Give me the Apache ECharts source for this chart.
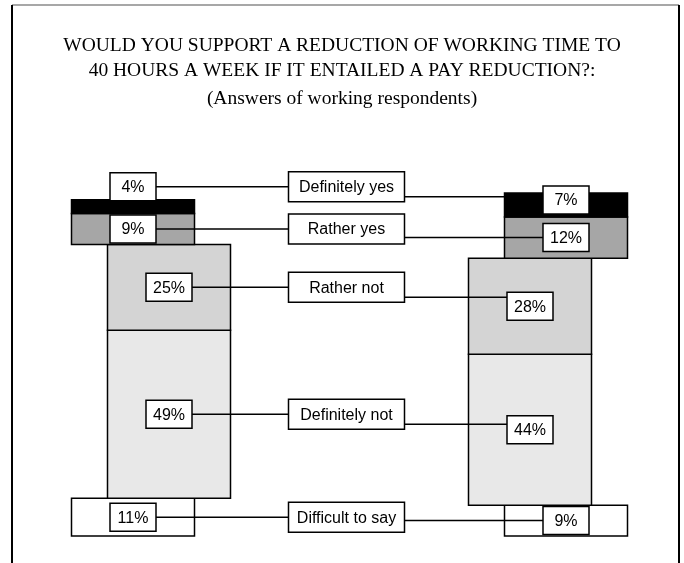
<!DOCTYPE html>
<html>
<head>
<meta charset="utf-8">
<script src="https://cdn.jsdelivr.net/npm/echarts@6/dist/echarts.min.js"></script>
<style>
  html, body { margin: 0; padding: 0; background: #fff; }
  #chart { width: 684px; height: 563px; }
</style>
</head>
<body>
<div id="chart"></div>
<script>
// Answer categories, listed from the top of each stack downwards
const answers = ['Definitely yes', 'Rather yes', 'Rather not', 'Definitely not', 'Difficult to say'];
// Share of working respondents (%) for the two stacked columns
const leftValues = [4, 9, 25, 49, 11];
const rightValues = [7, 12, 28, 44, 9];
const columns = ['A', 'B'];
const titleLines = [
  'WOULD YOU SUPPORT A REDUCTION OF WORKING TIME TO',
  '40 HOURS A WEEK IF IT ENTAILED A PAY REDUCTION?:',
  '(Answers of working respondents)'
];

// Styling and layout
const fills = ['#000000', '#a6a6a6', '#d4d4d4', '#e8e8e8', '#ffffff'];
const outward = [true, true, false, false, true]; // these segments lean to the outer side
const columnSide = [-1, 1];
const BAR_W = 123;
const HALF_SHIFT = 18;
const LABEL_W = 46, LABEL_H = 28;
const CAT_W = 116, CAT_H = 30;
const FONT = '"Liberation Sans", Arial, sans-serif';
const SERIF = '"Liberation Serif", "Times New Roman", serif';
const titleTops = [35, 60, 88];
const labelNudge = { '0-0': -20, '1-0': -5 };

const valuesOf = b => (b === 0 ? leftValues : rightValues);

// Stacked segments: [column, base, top, answer]
const segments = [];
for (let b = 0; b < 2; b++) {
  const vals = valuesOf(b);
  let acc = 0;
  for (let a = answers.length - 1; a >= 0; a--) {
    segments.push([b, acc, acc + vals[a], a]);
    acc += vals[a];
  }
}

function segCenterX(b, a, x) {
  return x + (outward[a] ? 1 : -1) * columnSide[b] * HALF_SHIFT;
}

function labelCenter(api, b, a) {
  const vals = valuesOf(b);
  let base = 0;
  for (let k = answers.length - 1; k > a; k--) base += vals[k];
  const mid = api.coord([b, base + vals[a] / 2]);
  return [segCenterX(b, a, mid[0]), mid[1] + (labelNudge[b + '-' + a] || 0)];
}

const chart = echarts.init(document.getElementById('chart'), null, { renderer: 'canvas' });

chart.setOption({
  backgroundColor: '#ffffff',
  animation: false,
  title: titleLines.map((t, i) => ({
    text: t,
    left: 'center', top: titleTops[i], padding: 0,
    textStyle: { fontFamily: SERIF, fontSize: 19.5, fontWeight: 'normal', color: '#000', lineHeight: 22 }
  })),
  graphic: [
    { type: 'line', shape: { x1: 12, y1: 5, x2: 679, y2: 5 }, style: { stroke: '#8a8a8a', lineWidth: 1.5 } },
    { type: 'line', shape: { x1: 12, y1: 5, x2: 12, y2: 563 }, style: { stroke: '#000', lineWidth: 2 } },
    { type: 'line', shape: { x1: 679, y1: 5, x2: 679, y2: 563 }, style: { stroke: '#000', lineWidth: 2 } }
  ],
  grid: { left: 151, right: 136, top: 193, bottom: 27 },
  xAxis: { type: 'category', data: columns, boundaryGap: false, show: false },
  yAxis: { type: 'value', min: 0, max: 100, show: false },
  series: [
    {
      type: 'custom', z: 2, clip: false,
      data: segments,
      encode: { x: 0, y: [1, 2] },
      renderItem: (params, api) => {
        const b = api.value(0), a = api.value(3);
        const p0 = api.coord([b, api.value(1)]);
        const p1 = api.coord([b, api.value(2)]);
        const cx = segCenterX(b, a, p0[0]);
        return {
          type: 'rect',
          shape: { x: cx - BAR_W / 2, y: p1[1], width: BAR_W, height: p0[1] - p1[1] },
          style: { fill: fills[a], stroke: '#000', lineWidth: 1.5 }
        };
      }
    },
    {
      // connector lines and answer boxes in the middle
      type: 'custom', z: 3, clip: false,
      data: answers.map((name, a) => [0, 0, a]),
      encode: { x: 0, y: 1 },
      renderItem: (params, api) => {
        const a = api.value(2);
        const l = labelCenter(api, 0, a);
        const r = labelCenter(api, 1, a);
        const catX = (api.coord([0, 0])[0] + api.coord([1, 0])[0]) / 2 - 3;
        const catY = l[1];
        const catLeft = catX - CAT_W / 2, catRight = catX + CAT_W / 2;
        const rightY = Math.min(r[1], catY + CAT_H / 2 - 5);
        return {
          type: 'group',
          children: [
            { type: 'line', shape: { x1: l[0] + LABEL_W / 2, y1: l[1], x2: catLeft, y2: l[1] }, style: { stroke: '#000', lineWidth: 1.5 } },
            { type: 'line', shape: { x1: catRight, y1: rightY, x2: r[0] - LABEL_W / 2, y2: rightY }, style: { stroke: '#000', lineWidth: 1.5 } },
            { type: 'rect', shape: { x: catLeft, y: catY - CAT_H / 2, width: CAT_W, height: CAT_H }, style: { fill: '#fff', stroke: '#000', lineWidth: 1.5 } },
            { type: 'text', x: catX, y: catY + 1, style: { text: answers[a], fill: '#000', font: '16px ' + FONT, align: 'center', verticalAlign: 'middle' } }
          ]
        };
      }
    },
    {
      // value boxes
      type: 'custom', z: 4, clip: false,
      data: segments,
      encode: { x: 0, y: [1, 2] },
      renderItem: (params, api) => {
        const b = api.value(0), a = api.value(3);
        const c = labelCenter(api, b, a);
        return {
          type: 'group',
          children: [
            { type: 'rect', shape: { x: c[0] - LABEL_W / 2, y: c[1] - LABEL_H / 2, width: LABEL_W, height: LABEL_H }, style: { fill: '#fff', stroke: '#000', lineWidth: 1.5 } },
            { type: 'text', x: c[0], y: c[1] + 1, style: { text: valuesOf(b)[a] + '%', fill: '#000', font: '16px ' + FONT, align: 'center', verticalAlign: 'middle' } }
          ]
        };
      }
    }
  ]
});
</script>
</body>
</html>
